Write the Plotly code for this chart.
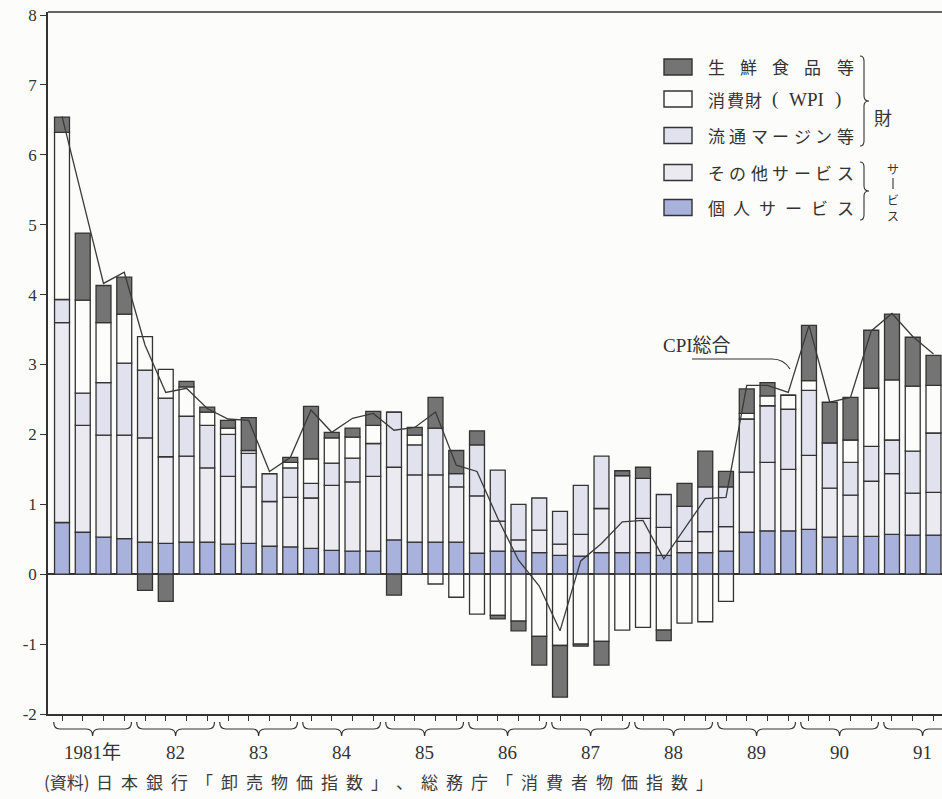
import plotly.graph_objects as go

# ---------------- data ----------------
quarters = [f"{y}Q{q}" for y in range(1981, 1992) for q in (1, 2, 3, 4)][:43]
year_labels = ["1981年", "82", "83", "84", "85", "86", "87", "88", "89", "90", "91"]

kojin = [0.74, 0.60, 0.53, 0.51, 0.46, 0.44, 0.46, 0.46, 0.43, 0.44, 0.40, 0.39,
         0.37, 0.34, 0.33, 0.33, 0.49, 0.46, 0.46, 0.46, 0.30, 0.33, 0.33, 0.31,
         0.27, 0.26, 0.31, 0.31, 0.31, 0.27, 0.31, 0.31, 0.33, 0.60, 0.62, 0.62,
         0.64, 0.53, 0.54, 0.54, 0.57, 0.56, 0.56]
sonota = [2.86, 1.53, 1.46, 1.48, 1.49, 1.24, 1.23, 1.06, 0.97, 0.81, 0.64, 0.71,
          0.72, 0.93, 0.99, 1.07, 1.04, 0.96, 0.96, 0.79, 0.82, 0.43, 0.16, 0.32,
          0.16, 0.31, 0.63, 1.10, 0.49, 0.40, 0.16, 0.30, 0.35, 0.86, 0.98, 0.88,
          1.06, 0.70, 0.59, 0.79, 0.87, 0.60, 0.61]
ryutsu = [0.33, 0.46, 0.75, 1.03, 0.97, 0.84, 0.57, 0.61, 0.60, 0.48, 0.40, 0.42,
          0.21, 0.32, 0.34, 0.47, 0.79, 0.43, 0.67, 0.19, 0.73, 0.73, 0.51, 0.46,
          0.47, 0.70, 0.75, 0.00, 0.57, 0.47, 0.50, 0.64, 0.57, 0.76, 0.81, 0.86,
          0.93, 0.65, 0.47, 0.50, 0.48, 0.60, 0.85]
wpi = [2.39, 1.33, 0.86, 0.70, 0.48, 0.41, 0.42, 0.19, 0.09, 0.04, 0.00, 0.08,
       0.35, 0.36, 0.30, 0.26, 0.00, 0.14, -0.14, -0.33, -0.57, -0.59, -0.67, -0.89,
       -1.02, -1.00, -0.96, -0.80, -0.76, -0.80, -0.70, -0.68, -0.39, 0.08, 0.14, 0.20,
       0.14, 0.00, 0.32, 0.83, 0.86, 0.93, 0.68]
seisen = [0.22, 0.96, 0.53, 0.53, -0.23, -0.39, 0.08, 0.07, 0.11, 0.47, 0.00, 0.07,
          0.75, 0.08, 0.13, 0.20, -0.30, 0.11, 0.44, 0.33, 0.20, -0.05, -0.14, -0.41,
          -0.74, -0.03, -0.34, 0.07, 0.16, -0.15, 0.33, 0.51, 0.22, 0.35, 0.19, 0.00,
          0.79, 0.58, 0.61, 0.83, 0.94, 0.70, 0.43]
cpi = [6.55, 5.35, 4.16, 4.32, 3.28, 2.60, 2.66, 2.37, 2.22, 2.20, 1.47, 1.67,
       2.35, 2.03, 2.23, 2.30, 2.06, 2.10, 2.32, 1.56, 1.47, 0.80, 0.20, -0.17,
       -0.81, 0.19, 0.44, 0.75, 0.77, 0.22, 0.65, 1.08, 1.10, 2.70, 2.70, 2.60,
       3.56, 2.46, 2.53, 3.48, 3.73, 3.40, 3.15]

legend_names = ["生鮮食品等", "消費財（WPI）", "流通マージン等", "その他サービス", "個人サービス"]
y_ticks = [-2, -1, 0, 1, 2, 3, 4, 5, 6, 7, 8]
y_ticktext = ["-2", "-1", "0", "1", "2", "3", "4", "5", "6", "7", "8"]
source_head = "(資料)"
source_body = "日本銀行「卸売物価指数」、総務庁「消費者物価指数」"

# ---------------- styling ----------------
C_KOJIN = "#a9b2dd"
C_SONOTA = "#ebeaf1"
C_RYUTSU = "#e2e2ef"
C_WPI = "#fcfcfa"
C_SEISEN = "#747474"
EDGE = "#333333"
BG = "#fcfcfa"
SERIF = "Liberation Serif, Noto Sans CJK JP"
CJK = "Noto Sans CJK JP"

W, H = 942, 799
ML, MR, MT, MB = 48, 0, 12, 85
PW, PH = W - ML - MR, H - MT - MB


def pxx(p):
    return (p - ML) / PW


def pxy(p):
    return (H - MB - p) / PH


x = list(range(len(quarters)))

fig = go.Figure()
for name, vals, col in [("個人サービス", kojin, C_KOJIN), ("その他サービス", sonota, C_SONOTA),
                        ("流通マージン等", ryutsu, C_RYUTSU), ("消費財（WPI）", wpi, C_WPI),
                        ("生鮮食品等", seisen, C_SEISEN)]:
    fig.add_trace(go.Bar(x=x, y=vals, name=name, width=0.72, showlegend=False,
                         customdata=quarters,
                         marker=dict(color=col, line=dict(color=EDGE, width=1.3))))
fig.add_trace(go.Scatter(x=x, y=cpi, mode="lines", name="CPI総合", showlegend=False,
                         line=dict(color="#3a3a3a", width=1.3)))

shapes = []
annotations = []

# top frame line
shapes.append(dict(type="line", xref="paper", yref="paper", x0=0, x1=1, y0=1, y1=1,
                   line=dict(color=EDGE, width=1.5)))

# year braces under the axis
yT, yM, yB = pxy(722), pxy(729), pxy(736)
for k, lab in enumerate(year_labels):
    i0, i3 = 4 * k, 4 * k + 3
    xL, xR = i0 - 0.4, i3 + 0.35
    xc = (xL + xR) / 2
    d = 0.3
    path = (f"M {xL},{yT} Q {xL},{yM} {xL + d},{yM} L {xc - d},{yM} "
            f"Q {xc},{yM} {xc},{yB} Q {xc},{yM} {xc + d},{yM} L {xR - d},{yM} "
            f"Q {xR},{yM} {xR},{yT}")
    shapes.append(dict(type="path", xref="x", yref="paper", path=path,
                       line=dict(color=EDGE, width=1.2)))
    annotations.append(dict(x=xc, y=pxy(752), xref="x", yref="paper", text=lab,
                            showarrow=False, font=dict(family=SERIF, size=19, color="#333"),
                            xanchor="center", yanchor="middle"))

# legend
leg_colors = [C_SEISEN, C_WPI, C_RYUTSU, C_SONOTA, C_KOJIN]
leg_rows = [67, 99, 135.5, 172.5, 207.5]
for name, col, yc in zip(legend_names, leg_colors, leg_rows):
    shapes.append(dict(type="rect", xref="paper", yref="paper",
                       x0=pxx(664), x1=pxx(692), y0=pxy(yc + 8), y1=pxy(yc - 8),
                       fillcolor=col, line=dict(color=EDGE, width=1.4)))
    if name == "消費財（WPI）":
        toks = [("消", 716), ("費", 735), ("財", 753), ("(", 775), ("WPI", 806), (")", 838)]
    else:
        n = len(name)
        step = (845 - 716) / (n - 1)
        toks = [(ch, 716 + i * step) for i, ch in enumerate(name)]
    for t, xc in toks:
        is_latin = t in ("WPI", "(", ")")
        annotations.append(dict(x=pxx(xc), y=pxy(yc), xref="paper", yref="paper", text=t,
                                showarrow=False, xanchor="center", yanchor="middle",
                                font=dict(family=SERIF if is_latin else CJK,
                                          size=19 if is_latin else 17, color="#333")))


def vbrace(top, bot, x0=860, x1=864, x2=869, r=5):
    ym = (top + bot) / 2
    pts = (f"M {pxx(x0)},{pxy(top)} Q {pxx(x1)},{pxy(top)} {pxx(x1)},{pxy(top + r)} "
           f"L {pxx(x1)},{pxy(ym - r)} Q {pxx(x1)},{pxy(ym)} {pxx(x2)},{pxy(ym)} "
           f"Q {pxx(x1)},{pxy(ym)} {pxx(x1)},{pxy(ym + r)} L {pxx(x1)},{pxy(bot - r)} "
           f"Q {pxx(x1)},{pxy(bot)} {pxx(x0)},{pxy(bot)}")
    return dict(type="path", xref="paper", yref="paper", path=pts,
                line=dict(color=EDGE, width=1.1))


shapes.append(vbrace(56, 146))
shapes.append(vbrace(162, 220))
annotations.append(dict(x=pxx(894), y=pxy(102), xref="paper", yref="paper", text="財",
                        showarrow=False, font=dict(family=CJK, size=18, color="#333")))
# vertical "サービス" (long-vowel mark drawn as a short vertical stroke)
annotations.append(dict(x=pxx(893), y=pxy(192), xref="paper", yref="paper",
                        text="サ<br> <br>ビ<br>ス", showarrow=False, align="center",
                        xanchor="center", yanchor="middle",
                        font=dict(family=CJK, size=12, color="#333")))
shapes.append(dict(type="line", xref="paper", yref="paper", x0=pxx(893), x1=pxx(893),
                   y0=pxy(178), y1=pxy(189), line=dict(color="#333", width=1.1)))

# CPI label with leader line
annotations.append(dict(x=pxx(733), y=pxy(345), xref="paper", yref="paper", text="CPI総合",
                        showarrow=False, font=dict(family=SERIF, size=19, color="#333")))
shapes.append(dict(type="path", xref="paper", yref="paper",
                   path=(f"M {pxx(692)},{pxy(359)} L {pxx(772)},{pxy(359)} "
                         f"Q {pxx(784)},{pxy(359)} {pxx(790)},{pxy(369)}"),
                   line=dict(color=EDGE, width=1.1)))

# source note (letter-spaced like the print)
annotations.append(dict(x=pxx(42), y=pxy(781), xref="paper", yref="paper", text=source_head,
                        showarrow=False, xanchor="left", yanchor="middle",
                        font=dict(family=CJK, size=17, color="#3a3a3a")))
pitch = (717 - 92) / len(source_body)
for i, ch in enumerate(source_body):
    annotations.append(dict(x=pxx(92 + pitch * (i + 0.5)), y=pxy(781), xref="paper",
                            yref="paper", text=ch, showarrow=False,
                            xanchor="center", yanchor="middle",
                            font=dict(family=CJK, size=17, color="#3a3a3a")))

fig.update_layout(
    width=W, height=H, margin=dict(l=ML, r=MR, t=MT, b=MB, pad=0, autoexpand=False),
    barmode="relative", bargap=0.2,
    paper_bgcolor=BG, plot_bgcolor=BG,
    font=dict(family=SERIF, color="#333"),
    showlegend=False, shapes=shapes, annotations=annotations,
    xaxis=dict(range=[-0.675, 42.41], tickmode="array", tickvals=x,
               ticktext=[""] * len(x), ticks="outside", ticklen=5, tickwidth=1.2,
               tickcolor=EDGE, showline=True, linecolor=EDGE, linewidth=1.5,
               showgrid=False, zeroline=False, fixedrange=True, automargin=False),
    yaxis=dict(range=[-2, 8.043], tickmode="array", tickvals=y_ticks, ticktext=y_ticktext,
               ticks="outside", ticklen=6, tickwidth=1.2, tickcolor=EDGE,
               tickfont=dict(family=SERIF, size=17, color="#333"),
               showline=True, linecolor=EDGE, linewidth=1.5, showgrid=False,
               zeroline=True, zerolinecolor=EDGE, zerolinewidth=1.5, fixedrange=True,
               automargin=False),
)

fig.write_html(
    "out.html",
    config={"displayModeBar": False},
    post_script=("document.documentElement.style.margin='0';"
                 "document.body.style.margin='0';document.body.style.padding='0';"
                 "document.body.style.overflow='hidden';"),
)
